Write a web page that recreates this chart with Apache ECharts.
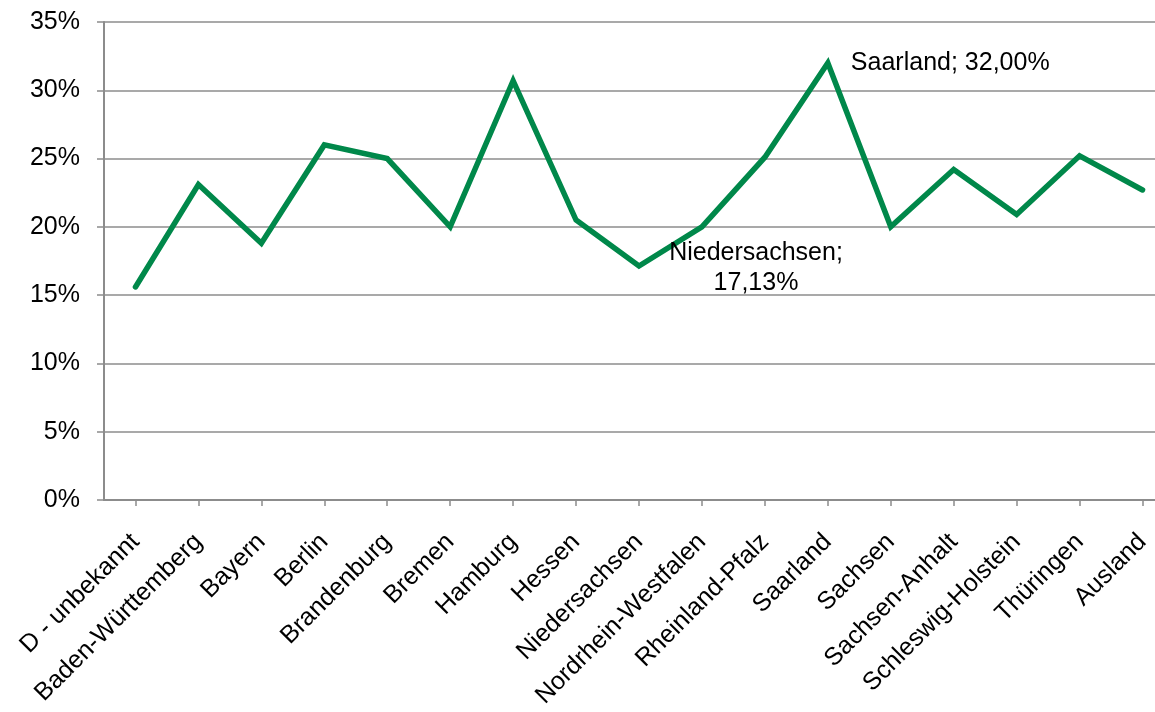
<!DOCTYPE html>
<html>
<head>
<meta charset="utf-8">
<script src="https://cdn.jsdelivr.net/npm/echarts@6/dist/echarts.min.js"></script>
<style>
  html, body { margin: 0; padding: 0; background: #fff; overflow: hidden; }
  /* plot area runs past the right edge of the window, like the original */
  #chart { width: 1174px; height: 712px; }
</style>
</head>
<body>
<div id="chart"></div>
<script>
// Kategorien (Bundesländer)
const categories = [
  'D - unbekannt', 'Baden-Württemberg', 'Bayern', 'Berlin', 'Brandenburg',
  'Bremen', 'Hamburg', 'Hessen', 'Niedersachsen', 'Nordrhein-Westfalen',
  'Rheinland-Pfalz', 'Saarland', 'Sachsen', 'Sachsen-Anhalt',
  'Schleswig-Holstein', 'Thüringen', 'Ausland'
];

// Anteile in Prozent
const shares = [
  15.6, 23.1, 18.8, 26.0, 25.0,
  20.0, 30.7, 20.5, 17.13, 20.0,
  25.1, 32.0, 20.0, 24.2,
  20.9, 25.2, 22.7
];

const yTicks = [0, 5, 10, 15, 20, 25, 30, 35];

const FONT = '"Liberation Sans", Arial, Helvetica, sans-serif';
const GREEN = '#00884a';
const GREY = '#8c8c8c';

function fmt(v) {
  return v.toFixed(2).replace('.', ',') + '%';
}

const seriesData = shares.map(function (v, i) {
  const name = categories[i];
  const item = { value: v };
  if (name === 'Saarland') {
    item.label = {
      show: true,
      position: 'right',
      distance: 23,
      formatter: name + '; ' + fmt(v)
    };
  } else if (name === 'Niedersachsen') {
    item.label = {
      show: true,
      position: 'inside',
      offset: [117, 2],
      align: 'center',
      lineHeight: 30,
      formatter: name + ';\n' + fmt(v)
    };
  }
  return item;
});

var chart = echarts.init(document.getElementById('chart'), null, { renderer: 'canvas' });

var option = {
  backgroundColor: '#ffffff',
  animation: false,
  grid: {
    left: 104,
    right: 0,
    top: 22,
    bottom: 212,
    containLabel: false
  },
  xAxis: {
    type: 'category',
    data: categories,
    boundaryGap: true,
    axisLine: { show: true, lineStyle: { color: GREY, width: 2 } },
    axisTick: { show: true, alignWithLabel: true, length: 6, lineStyle: { color: GREY, width: 1.5 } },
    axisLabel: {
      interval: 0,
      rotate: 45,
      margin: 38,
      padding: [25, 0, 0, 0],
      color: '#000',
      fontSize: 25,
      fontFamily: FONT
    },
    splitLine: { show: false }
  },
  yAxis: {
    type: 'value',
    min: yTicks[0],
    max: yTicks[yTicks.length - 1],
    interval: 5,
    axisLine: { show: true, lineStyle: { color: GREY, width: 2 } },
    axisTick: { show: true, length: 7, lineStyle: { color: GREY, width: 1.5 } },
    axisLabel: {
      margin: 24,
      color: '#000',
      fontSize: 25,
      fontFamily: FONT,
      formatter: function (v) { return v + '%'; }
    },
    splitLine: { show: true, lineStyle: { color: GREY, width: 1.5 } }
  },
  series: [
    {
      type: 'line',
      data: seriesData,
      showSymbol: true,
      symbol: 'circle',
      symbolSize: 0.1,
      itemStyle: { color: GREEN },
      lineStyle: { color: GREEN, width: 5.5, cap: 'round', join: 'miter' },
      label: {
        show: false,
        color: '#000',
        fontSize: 25,
        fontFamily: FONT
      },
      emphasis: { disabled: true }
    }
  ]
};

chart.setOption(option);
</script>
</body>
</html>
